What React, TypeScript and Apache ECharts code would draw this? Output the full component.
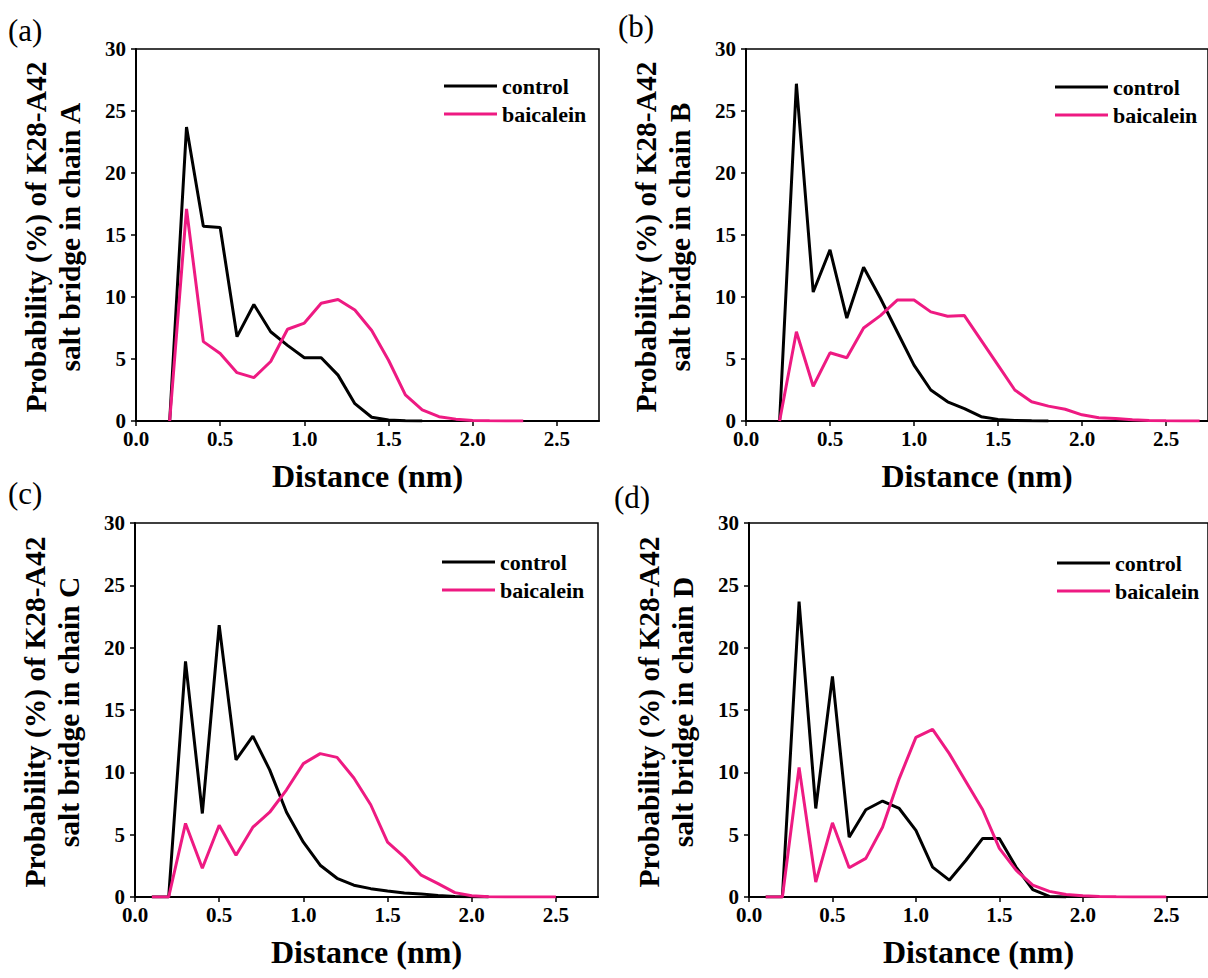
import React, { useEffect, useRef } from "react";
import * as echarts from "echarts";

const DISTANCE = [0.1, 0.2, 0.3, 0.4, 0.5, 0.6, 0.7, 0.8, 0.9, 1.0, 1.1, 1.2, 1.3, 1.4, 1.5, 1.6, 1.7, 1.8, 1.9, 2.0, 2.1, 2.2, 2.3, 2.4, 2.5, 2.6, 2.7];

const A_CONTROL = [null, 0, 23.7, 15.7, 15.6, 6.8, 9.4, 7.2, 6.1, 5.1, 5.1, 3.7, 1.4, 0.3, 0.08, 0.02, 0, null, null, null, null, null, null, null, null, null, null];
const A_BAICALEIN = [null, 0, 17.1, 6.4, 5.45, 3.9, 3.5, 4.8, 7.4, 7.9, 9.5, 9.8, 8.95, 7.3, 4.9, 2.1, 0.9, 0.35, 0.15, 0.05, 0.02, 0.01, 0, null, null, null, null];
const B_CONTROL = [null, 0, 27.2, 10.4, 13.8, 8.3, 12.4, 9.9, 7.2, 4.5, 2.5, 1.55, 1.0, 0.35, 0.13, 0.05, 0.02, 0, null, null, null, null, null, null, null, null, null];
const B_BAICALEIN = [null, 0, 7.2, 2.8, 5.5, 5.1, 7.5, 8.5, 9.75, 9.75, 8.8, 8.45, 8.5, 6.5, 4.5, 2.5, 1.55, 1.2, 0.95, 0.5, 0.27, 0.2, 0.1, 0.05, 0.02, 0.01, 0];
const C_CONTROL = [0, 0, 18.9, 6.7, 21.8, 11.0, 12.9, 10.2, 6.8, 4.4, 2.55, 1.5, 0.95, 0.67, 0.48, 0.32, 0.25, 0.13, 0.05, 0.02, 0, null, null, null, null, null, null];
const C_BAICALEIN = [0, 0, 5.9, 2.3, 5.75, 3.35, 5.6, 6.8, 8.6, 10.7, 11.5, 11.2, 9.55, 7.4, 4.4, 3.2, 1.75, 1.07, 0.35, 0.1, 0.02, 0, 0, 0, 0, null, null];
const D_CONTROL = [0, 0, 23.7, 7.1, 17.7, 4.8, 7.0, 7.7, 7.1, 5.35, 2.4, 1.35, 2.95, 4.7, 4.7, 2.4, 0.6, 0.05, 0, null, null, null, null, null, null, null, null];
const D_BAICALEIN = [0, 0, 10.4, 1.2, 5.95, 2.35, 3.1, 5.6, 9.5, 12.8, 13.45, 11.5, 9.25, 7.0, 3.9, 2.15, 0.95, 0.45, 0.2, 0.1, 0.05, 0.02, 0.01, 0, 0, null, null];

const X_TICKS = [0, 0.5, 1.0, 1.5, 2.0, 2.5];
const SERIES_NAMES = ["control", "baicalein"];
const PANEL_LABELS = ["(a)", "(b)", "(c)", "(d)"];
const CHAINS = ["A", "B", "C", "D"];
const X_TITLE = "Distance (nm)";

const FONT = "'Liberation Serif', 'Times New Roman', serif";
const BLACK = "#000000";
const PINK = "#ee1a82";

const GRIDS = [
  { left: 136, top: 49, width: 463, height: 372 },
  { left: 746, top: 49, width: 462, height: 372 },
  { left: 135, top: 523, width: 463, height: 374 },
  { left: 749, top: 523, width: 462, height: 374 },
];
const LEGEND_POS = [
  { left: 439, top: 70 },
  { left: 1050, top: 71 },
  { left: 437, top: 546 },
  { left: 1052, top: 547 },
];
const LABEL_POS = [
  { x: 8, y: 30 },
  { x: 618, y: 26 },
  { x: 8, y: 493 },
  { x: 614, y: 497 },
];

const PANEL_DATA = [
  [A_CONTROL, A_BAICALEIN],
  [B_CONTROL, B_BAICALEIN],
  [C_CONTROL, C_BAICALEIN],
  [D_CONTROL, D_BAICALEIN],
];

function toPairs(values: (number | null)[]) {
  const out: [number, number][] = [];
  values.forEach((v, i) => {
    if (v !== null) out.push([DISTANCE[i], v]);
  });
  return out;
}

export default function App() {
  const ref = useRef<HTMLDivElement>(null);
  useEffect(() => {
    if (!ref.current) return;
    const chart = echarts.init(ref.current, undefined, { renderer: "svg" });

    const grid = GRIDS.map((g) => ({
      ...g,
      show: true,
      borderColor: BLACK,
      borderWidth: 1.5,
      backgroundColor: "transparent",
      containLabel: false,
    }));

    const xAxis = GRIDS.map((_, i) => ({
      type: "value",
      gridIndex: i,
      min: 0,
      max: 2.75,
      interval: 0.5,
      name: X_TITLE,
      nameLocation: "middle",
      nameGap: 39,
      nameTextStyle: { fontFamily: FONT, fontWeight: "bold", fontSize: 32, color: BLACK },
      splitLine: { show: false },
      axisLine: { show: true, onZero: false, lineStyle: { color: BLACK, width: 2 } },
      axisTick: { show: true, inside: false, length: 5, customValues: X_TICKS, lineStyle: { color: BLACK, width: 1.5 } },
      axisLabel: {
        customValues: X_TICKS,
        formatter: (v: number) => v.toFixed(1),
        fontFamily: FONT,
        fontWeight: "bold",
        fontSize: 21,
        color: BLACK,
        margin: 7,
      },
    }));

    const yAxis = GRIDS.map((_, i) => ({
      type: "value",
      gridIndex: i,
      min: 0,
      max: 30,
      interval: 5,
      splitLine: { show: false },
      axisLine: { show: true, lineStyle: { color: BLACK, width: 2 } },
      axisTick: { show: true, inside: false, length: 5, lineStyle: { color: BLACK, width: 1.5 } },
      axisLabel: {
        fontFamily: FONT,
        fontWeight: "bold",
        fontSize: 21,
        color: BLACK,
        margin: 10,
      },
    }));

    const series: any[] = [];
    PANEL_DATA.forEach((pair, i) => {
      pair.forEach((vals, j) => {
        series.push({
          type: "line",
          name: SERIES_NAMES[j],
          xAxisIndex: i,
          yAxisIndex: i,
          data: toPairs(vals),
          symbol: "none",
          lineStyle: { color: j === 0 ? BLACK : PINK, width: 3 },
          itemStyle: { color: j === 0 ? BLACK : PINK },
          z: 2 + j,
        });
      });
    });

    const legend = LEGEND_POS.map((p) => ({
      left: p.left,
      top: p.top,
      orient: "vertical",
      data: SERIES_NAMES,
      icon: "rect",
      itemWidth: 53,
      itemHeight: 3,
      itemGap: 6,
      selectedMode: false,
      textStyle: { fontFamily: FONT, fontWeight: "bold", fontSize: 22, lineHeight: 22, color: BLACK },
    }));

    const graphic: any[] = [];
    GRIDS.forEach((g, i) => {
      graphic.push({
        type: "text",
        x: g.left - 83,
        y: g.top + g.height / 2 + 2,
        rotation: Math.PI / 2,
        style: {
          text: "Probability (%) of K28-A42\nsalt bridge in chain " + CHAINS[i],
          fontFamily: FONT,
          fontWeight: "bold",
          fontSize: 29.5,
          lineHeight: 34,
          fill: BLACK,
          align: "center",
          verticalAlign: "middle",
        },
      });
      graphic.push({
        type: "text",
        x: LABEL_POS[i].x,
        y: LABEL_POS[i].y,
        style: {
          text: PANEL_LABELS[i],
          fontFamily: FONT,
          fontSize: 31,
          fill: BLACK,
          align: "left",
          verticalAlign: "middle",
        },
      });
    });

    chart.setOption({
      animation: false,
      backgroundColor: "#ffffff",
      grid,
      xAxis,
      yAxis,
      series,
      legend,
      graphic,
    });
    return () => chart.dispose();
  }, []);

  return (
    <div
      ref={ref}
      style={{ position: "absolute", left: 0, top: 0, width: 1208, height: 978 }}
    />
  );
}
